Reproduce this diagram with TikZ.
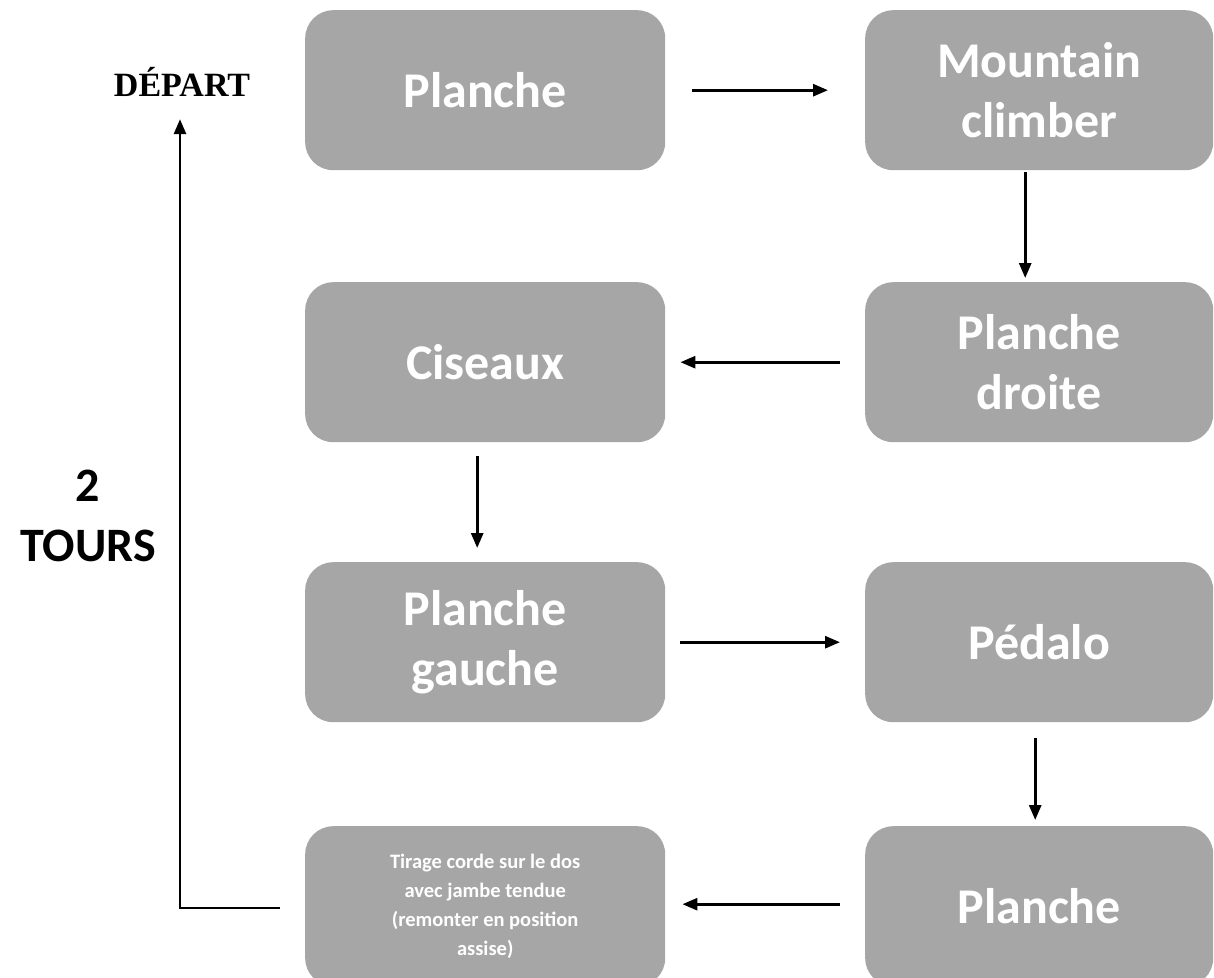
\documentclass[tikz,border=0pt]{standalone}
\usepackage{fontspec}
\setmainfont{Carlito}
\newfontfamily\serifbold{Liberation Serif}
\usetikzlibrary{arrows.meta}
\definecolor{boxgray}{HTML}{A6A6A6}
\begin{document}
\begin{tikzpicture}[x=1pt,y=-1pt,
  box/.style={fill=boxgray, rounded corners=28pt, minimum height=160pt, inner sep=0pt,
    text=white, font=\bfseries\fontsize{50}{60}\selectfont, align=center, anchor=north west},
  lbox/.style={box, minimum width=360pt},
  rbox/.style={box, minimum width=348pt},
  arr/.style={line width=2.8pt, -{Triangle[length=15pt,width=12pt]}},
  lbl/.style={font=\bfseries\fontsize{48}{60}\selectfont, align=center}]
\useasboundingbox (0,0) rectangle (1214,977);
\clip (0,0) rectangle (1214,977);
\fill[white] (0,0) rectangle (1214,977);

\node[lbox] (p1) at (305,10) {Planche};
\node[rbox] (mc) at (865,10) {Mountain\\climber};
\node[lbox] (ci) at (305,282) {Ciseaux};
\node[rbox] (pd) at (865,282) {Planche\\droite};
\node[lbox] (pg) at (305,562) {Planche\\gauche};
\node[rbox] (pe) at (865,562) {Pédalo};
\node[lbox, font=\bfseries\fontsize{20.5}{29}\selectfont] (ti) at (305,826) {Tirage corde sur le dos\\avec jambe tendue\\(remonter en position\\assise)};
\node[rbox] (p2) at (865,826) {Planche};

\node[font=\serifbold\bfseries\fontsize{34}{40}\selectfont] (dep) at (182,82) {DÉPART};
\node[lbl] (tours) at (88,516) {2\\TOURS};

\draw[arr, shorten <=27pt, shorten >=37pt] (p1.east) -- (p1.east -| mc.west);
\draw[arr, shorten <=2pt, shorten >=4pt] ([xshift=-14pt]mc.south) -- ([xshift=-14pt]pd.north);
\draw[arr, shorten <=25pt, shorten >=15pt] (pd.west) -- (pd.west -| ci.east);
\draw[arr, shorten <=14pt, shorten >=14pt] ([xshift=-8pt]ci.south) -- ([xshift=-8pt]pg.north);
\draw[arr, shorten <=15pt, shorten >=25pt] (pg.east) -- (pg.east -| pe.west);
\draw[arr, shorten <=16pt, shorten >=6pt] ([xshift=-4pt]pe.south) -- ([xshift=-4pt]p2.north);
\draw[arr, shorten <=25pt, shorten >=17pt] ([yshift=2pt]p2.west) -- ([yshift=2pt]p2.west -| ti.east);
\coordinate (corner) at (180,908);
\draw[line width=2.8pt, -{Triangle[length=15pt,width=12pt]}, shorten <=25pt, shorten >=19pt]
  (ti.west |- corner) -- (corner) -- (corner |- dep.south);
\end{tikzpicture}
\end{document}
